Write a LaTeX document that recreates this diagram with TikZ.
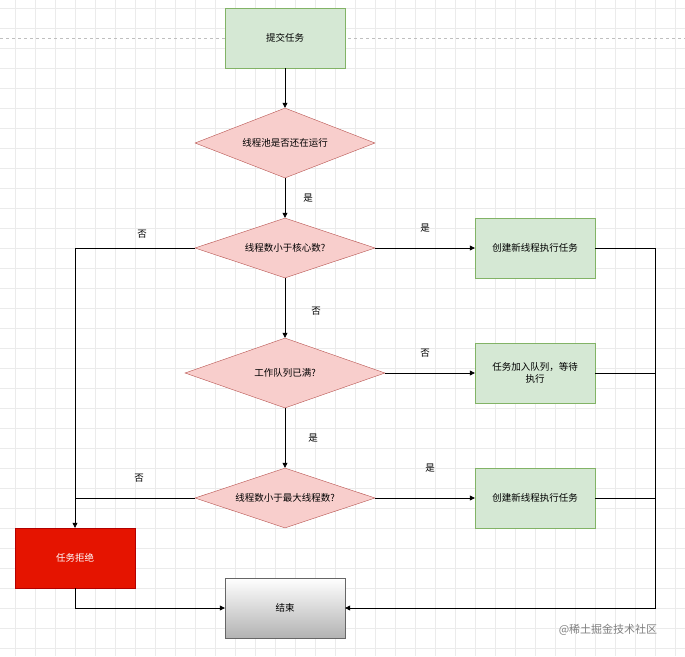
\documentclass[tikz,border=0pt]{standalone}
\usepackage{fontspec}
\setmainfont{Noto Sans CJK SC}
\usetikzlibrary{shapes.geometric,arrows.meta}
\definecolor{gfill}{HTML}{D5E8D4}\definecolor{gline}{HTML}{82B366}
\definecolor{pfill}{HTML}{F8CECC}\definecolor{pline}{HTML}{B85450}
\definecolor{rfill}{HTML}{E51400}\definecolor{rline}{HTML}{B20000}
\tikzset{
 every node/.style={font=\fontsize{9.5}{11.5}\selectfont},
 gbox/.style={draw=gline,fill=gfill,minimum width=120pt,minimum height=60pt,align=center,text width=104pt},
 dia/.style={diamond,draw=pline,fill=pfill,aspect=3,inner sep=0pt},
 conn/.style={-{Triangle[length=5pt,width=5pt]},line width=0.6pt},
 line/.style={line width=0.6pt},
 lab/.style={font=\fontsize{9.5}{11.5}\selectfont}
}
\begin{document}
\begin{tikzpicture}[x=1pt,y=-1pt]
\useasboundingbox (0,0) rectangle (685,656);
\fill[white] (0,0) rectangle (685,656);
\foreach \x in {15,35,...,675} \draw[black!8,line width=0.4pt] (\x,0) -- (\x,656);
\foreach \y in {8,28,...,648} \draw[black!8,line width=0.4pt] (0,\y) -- (685,\y);
\draw[black!25,dashed,line width=0.4pt] (0,38) -- (685,38);

\node[gbox] (submit) at (285,38) {提交任务};
\node[dia,minimum width=180pt,minimum height=70pt] (d1) at (285,143) {};
\node at (285,143) {线程池是否还在运行};
\node[dia,minimum width=180pt,minimum height=60pt] (d2) at (285,248) {};
\node at (285,248) {线程数小于核心数?};
\node[dia,minimum width=200pt,minimum height=70pt] (d3) at (285,373) {};
\node at (285,373) {工作队列已满?};
\node[dia,minimum width=180pt,minimum height=60pt] (d4) at (285,498) {};
\node at (285,498) {线程数小于最大线程数?};
\node[gbox] (g1) at (535,248) {创建新线程执行任务};
\node[gbox] (g2) at (535,373) {任务加入队列，等待\\执行};
\node[gbox] (g3) at (535,498) {创建新线程执行任务};
\node[draw=rline,fill=rfill,text=white,minimum width=120pt,minimum height=60pt] (rej) at (75,558) {任务拒绝};
\node[draw=black!60,top color=white,bottom color=black!30,minimum width=120pt,minimum height=60pt] (end) at (285,608) {结束};

\coordinate (c1) at (75,248);
\coordinate (c2) at (75,498);
\coordinate (r1) at (655,248);
\coordinate (r2) at (655,373);
\coordinate (r3) at (655,498);
\coordinate (r4) at (655,608);
\coordinate (b1) at (75,608);

\draw[conn] (submit) -- (d1);
\draw[conn] (d1) -- (d2);
\draw[conn] (d2) -- (g1);
\draw[conn] (d2.west) -- (c1) -- (rej.north);
\draw[conn] (d2) -- (d3);
\draw[conn] (d3) -- (g2);
\draw[conn] (d3) -- (d4);
\draw[conn] (d4) -- (g3);
\draw[line] (d4.west) -- (c2);
\draw[conn] (g1.east) -- (r1) -- (r4) -- (end.east);
\draw[line] (g2.east) -- (r2);
\draw[line] (g3.east) -- (r3);
\draw[conn] (rej.south) -- (b1) -- (end.west);

\node[lab] at (308,198) {是};
\node[lab] at (425,228) {是};
\node[lab] at (142,234) {否};
\node[lab] at (316,311) {否};
\node[lab] at (425,353) {否};
\node[lab] at (313,438) {是};
\node[lab] at (430,468) {是};
\node[lab] at (139,478) {否};
\node[text=black!50,font=\fontsize{11}{13}\selectfont] at (608,630) {@稀土掘金技术社区};
\end{tikzpicture}
\end{document}
